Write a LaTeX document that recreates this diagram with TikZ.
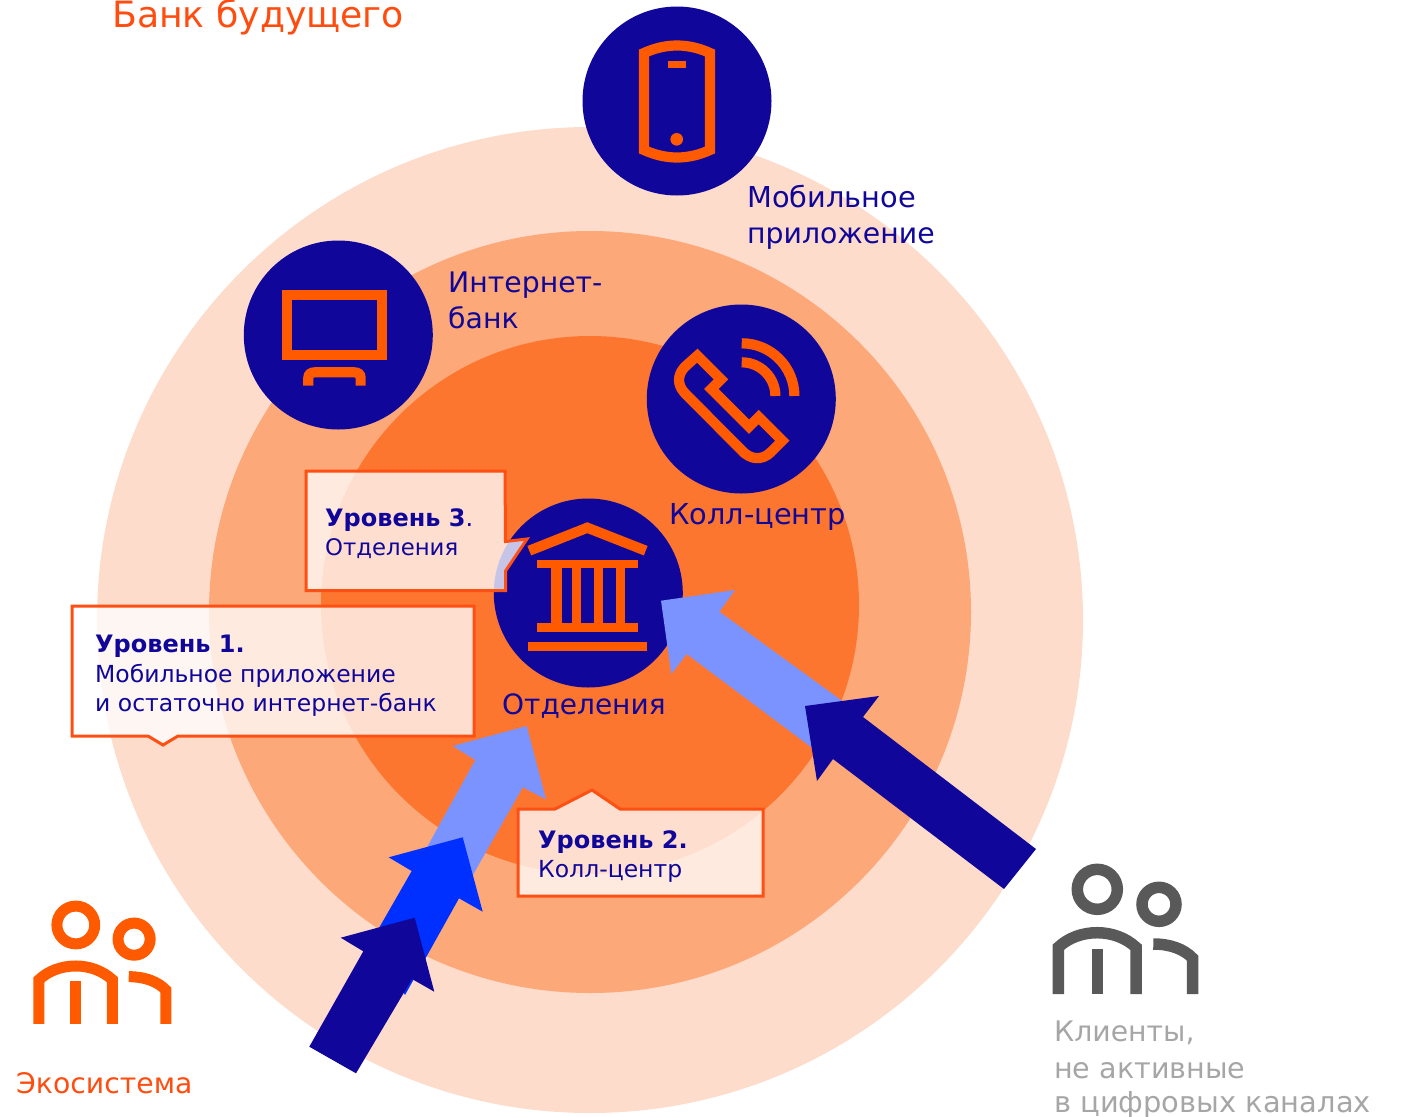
\documentclass[tikz,border=0pt]{standalone}
\usepackage{fontspec}
\setmainfont{DejaVu Sans}
\definecolor{ringA}{HTML}{FDDCCC}
\definecolor{ringB}{HTML}{FCA878}
\definecolor{ringC}{HTML}{FC7630}
\definecolor{navy}{HTML}{10069A}
\definecolor{accent}{HTML}{FF5A00}
\definecolor{calloutline}{HTML}{FF5014}
\definecolor{lightarrow}{HTML}{7B93FF}
\definecolor{midarrow}{HTML}{0030FF}
\definecolor{iconGray}{HTML}{595959}
\definecolor{textGray}{HTML}{A6A6A6}
\definecolor{titleCol}{HTML}{FF4D10}
\tikzset{
  label/.style={anchor=base west,inner sep=0pt,text=navy,align=left,font=\fontsize{28.3}{35.5}\selectfont},
  boxtext/.style={anchor=base west,inner sep=0pt,text=navy,align=left,font=\fontsize{23.5}{29}\selectfont},
  callout/.style={draw=calloutline,line width=3pt,fill=white,fill opacity=.77,line join=miter},
  iconline/.style={draw=accent,line width=10.2pt,line join=miter,line cap=butt},
  iconfill/.style={fill=accent},
  badge/.style={fill=navy}
}
\newcommand{\peopleicon}[3]{%
  \begin{scope}[#2,draw=#1,line width=#3,line cap=butt,line join=miter]
    \draw (45.3,24.3) circle [radius=20];
    \draw (107,39.3) circle [radius=17];
    \draw (6.3,129) -- (6.3,82.3) .. controls (16,73) and (30,67.7) .. (45.3,67.7) .. controls (60,67.7) and (74,73) .. (84,82.3) -- (84,129);
    \draw (45.3,84) -- (45.3,129);
    \draw (101.3,79) .. controls (118,79) and (132,84) .. (140.7,93.3) -- (140.7,129);
  \end{scope}}
\begin{document}
\begin{tikzpicture}[x=1pt,y=-1pt]
\useasboundingbox (0,0) rectangle (1401,1117);
% rings
\fill[ringA] (590,620) circle [radius=493];
\fill[ringB] (590,612) circle [radius=381];
\fill[ringC] (590,605) circle [radius=269];
% badges
\fill[badge] (677,101) circle [radius=94.5];
\fill[badge] (338.3,335) circle [radius=94.5];
\fill[badge] (741.3,399) circle [radius=94.5];
\fill[badge] (588.3,593) circle [radius=94.5];
% mobile icon
\draw[iconline] (644,53) .. controls (666,43) and (688,43) .. (710,53) -- (710,150) .. controls (688,160) and (666,160) .. (644,150) -- cycle;
\fill[iconfill] (667.7,60.7) rectangle (686,68);
\fill[iconfill] (676.7,139.3) circle [radius=6.3];
% desktop icon
\draw[iconline] (287,294.7) rectangle (381.7,355);
\draw[iconline] (308.3,385.7) -- (308.3,378) .. controls (308.3,374) and (311,372.3) .. (315,372.3) -- (354,372.3) .. controls (358,372.3) and (360.6,374) .. (360.6,378) -- (360.6,385.7);
% phone icon
\draw[iconline] (697.3,355.7) -- (721,379.3) -- (711.3,389) -- (749,426.7) -- (758.7,417) -- (782.3,440.7) -- (771,452) .. controls (762,461) and (750,460) .. (741,449.7) -- (685,393.3) .. controls (677,385) and (677,375) .. (685,366.7) -- cycle;
\draw[iconline] (741.7,343.3) arc (-90:0:52.7);
\draw[iconline] (741.7,362.3) arc (-90:0:33.7);
% bank icon
\draw[iconline] (529.3,550.7) -- (587.3,527.7) -- (645.7,550.7);
\fill[iconfill] (537.3,560) rectangle (637.7,568.3);
\fill[iconfill] (551.3,568) rectangle (562.3,624);
\fill[iconfill] (572.3,568) rectangle (581.3,624);
\fill[iconfill] (594,568) rectangle (603,624);
\fill[iconfill] (616,568) rectangle (625,624);
\fill[iconfill] (537.3,623.3) rectangle (637.7,632.3);
\fill[iconfill] (528.3,641.7) rectangle (646.7,650.7);
% arrows, bottom stack
\fill[lightarrow] (526.7,726) -- (452.7,746) -- (475.3,760) -- (420,860) -- (470,880) -- (522.7,787.3) -- (546,799.3) -- cycle;
\fill[midarrow] (462.7,837.3) -- (388.7,857.3) -- (411.7,871) -- (375,935) -- (405,995) -- (459,898.3) -- (482.7,911.7) -- cycle;
\fill[navy] (414.7,917.7) -- (340.7,937.7) -- (363.3,951.3) -- (309.3,1046.7) -- (356,1073.3) -- (412,979) -- (434.3,991.7) -- cycle;
% arrows, right stack
\fill[lightarrow] (661,600.7) -- (735,590) -- (719.3,611.7) -- (845,703) -- (815,750) -- (686.7,654) -- (671.3,674) -- cycle;
\fill[navy] (805,706) -- (879,696) -- (863,717) -- (1036,849) -- (1004,889) -- (833,759) -- (817,781) -- cycle;
% callouts
\draw[callout] (306,471) -- (505,471) -- (505.5,541.5) -- (527,539) -- (505.5,571) -- (505.5,590.5) -- (306,590.5) -- cycle;
\draw[callout] (72,606) -- (474,606) -- (474,736) -- (178,736) -- (163,745) -- (148,736) -- (72,736) -- cycle;
\draw[callout] (518,809) -- (555,809) -- (592,790) -- (620,809) -- (763,809) -- (763,896) -- (518,896) -- cycle;
% texts
\node[anchor=base west,inner sep=0pt,text=titleCol,font=\fontsize{36.2}{42}\selectfont] (title) at (112,27) {Банк будущего};
\node[label] (mob1) at (747,207) {\fontsize{28.8}{35}\selectfont Мобильное};
\node[label] (mob2) at (747,243) {приложение};
\node[label] (web1) at (448,292) {Интернет-};
\node[label] (web2) at (448,328) {банк};
\node[label] (call) at (669,524) {\fontsize{28.8}{35}\selectfont Колл-центр};
\node[label] (branch) at (502,714) {\fontsize{28}{35}\selectfont Отделения};
\node[boxtext] (l3a) at (325,526) {\fontsize{24}{29}\selectfont\textbf{Уровень 3}.};
\node[boxtext] (l3b) at (325,555) {\fontsize{22.8}{29}\selectfont Отделения};
\node[boxtext] (l1a) at (95,652) {\fontsize{24}{29}\selectfont\textbf{Уровень 1.}};
\node[boxtext] (l1b) at (95,682) {Мобильное приложение};
\node[boxtext] (l1c) at (95,711) {и остаточно интернет-банк};
\node[boxtext] (l2a) at (538,848) {\fontsize{24}{29}\selectfont\textbf{Уровень 2.}};
\node[boxtext] (l2b) at (538,877) {Колл-центр};
\node[label,text=titleCol] (eco) at (16,1093) {Экосистема};
\node[label,text=textGray] (c1) at (1054,1041.7) {Клиенты,};
\node[label,text=textGray] (c2) at (1054,1078) {\fontsize{28.6}{35}\selectfont не активные};
\node[label,text=textGray] (c3) at (1054,1112) {\fontsize{28.9}{35}\selectfont в цифровых каналах};
% people icons
\peopleicon{iconGray}{shift={(1052,865)}}{11.5pt}
\peopleicon{accent}{shift={(33,902)},scale=.945}{11pt}
\end{tikzpicture}
\end{document}
